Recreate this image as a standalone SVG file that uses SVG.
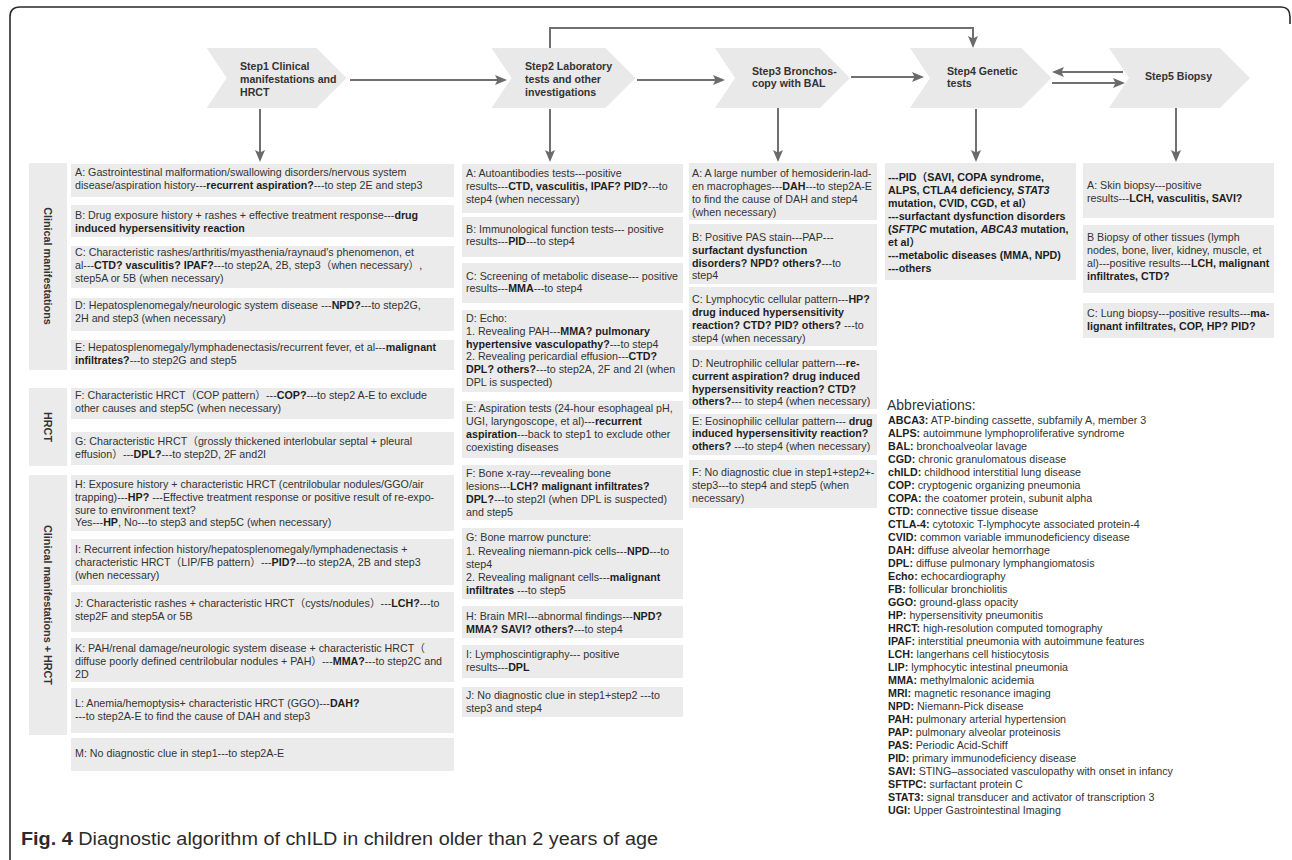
<svg xmlns="http://www.w3.org/2000/svg" width="1292" height="860" viewBox="0 0 1292 860">
<style>
.box{fill:#ebebeb}
.chev{fill:#e9e9e9}
.t{font-family:"Liberation Sans","Noto Sans CJK SC",Arial,sans-serif;font-size:10.7px;fill:#333}
.b{font-weight:bold;fill:#1e1e1e}
.i{font-style:italic}
.hd{font-family:"Liberation Sans",Arial,sans-serif;font-size:10.6px;font-weight:bold;fill:#333}
.side{font-family:"Liberation Sans",Arial,sans-serif;font-size:10.8px;font-weight:bold;fill:#333}
.conn{stroke:#707070;stroke-width:2;fill:none}
.frame{stroke:#2a2a2a;stroke-width:1.6;fill:none}
</style>
<defs>
<marker id="ah" viewBox="0 0 12 10" refX="10" refY="5" markerWidth="12" markerHeight="10" markerUnits="userSpaceOnUse" orient="auto">
<path d="M0,0 L12,5 L0,10 L2.5,5 Z" fill="#6b6b6b"/>
</marker>
</defs>
<rect width="1292" height="860" fill="#ffffff"/>
<path class="frame" d="M10,860 V17 Q10,7 20,7 H1281 Q1290,7 1290,17 V24"/>

<!-- Steps -->
<g id="step1"><polygon class="chev" points="206.6,48 316.5,48 346.5,78 316.5,108 206.6,108 226.6,78"/>
<text class="hd"><tspan x="240" y="70">Step1 Clinical</tspan><tspan x="240" y="83">manifestations and</tspan><tspan x="240" y="96">HRCT</tspan></text></g>
<g id="step2"><polygon class="chev" points="491.5,48 605.5,48 635.5,78 605.5,108 491.5,108 511.5,78"/>
<text class="hd"><tspan x="525" y="70">Step2 Laboratory</tspan><tspan x="525" y="83">tests and other</tspan><tspan x="525" y="96">investigations</tspan></text></g>
<g id="step3"><polygon class="chev" points="715,48 820,48 850,78 820,108 715,108 735,78"/>
<text class="hd"><tspan x="752" y="75">Step3 Bronchos-</tspan><tspan x="752" y="87">copy with BAL</tspan></text></g>
<g id="step4"><polygon class="chev" points="910,48 1021.5,48 1051.5,78 1021.5,108 910,108 930,78"/>
<text class="hd"><tspan x="947" y="75">Step4 Genetic</tspan><tspan x="947" y="87">tests</tspan></text></g>
<g id="step5"><polygon class="chev" points="1109,48 1220,48 1250,78 1220,108 1109,108 1129,78"/>
<text class="hd"><tspan x="1145" y="80">Step5 Biopsy</tspan></text></g>

<!-- Connectors -->
<g id="connectors">
<path class="conn" d="M350,80 H505" marker-end="url(#ah)"/>
<path class="conn" d="M637,80 H723" marker-end="url(#ah)"/>
<path class="conn" d="M851,77 H922" marker-end="url(#ah)"/>
<path class="conn" d="M1123,72 H1054" marker-end="url(#ah)"/>
<path class="conn" d="M1052,83 H1123" marker-end="url(#ah)"/>
<path class="conn" d="M550,48 V28 H973 V46" marker-end="url(#ah)"/>
<path class="conn" d="M260,109 V160" marker-end="url(#ah)"/>
<path class="conn" d="M550,109 V160" marker-end="url(#ah)"/>
<path class="conn" d="M778,108 V160" marker-end="url(#ah)"/>
<path class="conn" d="M976,109 V160" marker-end="url(#ah)"/>
<path class="conn" d="M1176,108 V160" marker-end="url(#ah)"/>
</g>

<!-- Side labels -->
<g id="side-cm"><rect class="box" x="29" y="163" width="38" height="207"/><text class="side" text-anchor="middle" transform="translate(44,266) rotate(90)">Clinical manifestations</text></g>
<g id="side-hrct"><rect class="box" x="29" y="388" width="38" height="78"/><text class="side" text-anchor="middle" transform="translate(44,427) rotate(90)">HRCT</text></g>
<g id="side-cmh"><rect class="box" x="29" y="475" width="38" height="260"/><text class="side" text-anchor="middle" transform="translate(44,605) rotate(90)">Clinical manifestations + HRCT</text></g>

<!-- Column 1 -->
<g id="s1A"><rect class="box" x="71" y="164" width="383" height="33"/><text class="t"><tspan x="75" y="176">A: Gastrointestinal malformation/swallowing disorders/nervous system</tspan><tspan x="75" y="189">disease/aspiration history---<tspan class="b">recurrent aspiration?</tspan>---to step 2E and step3</tspan></text></g>
<g id="s1B"><rect class="box" x="71" y="205" width="383" height="32"/><text class="t"><tspan x="75" y="218.5">B: Drug exposure history + rashes + effective treatment response---<tspan class="b">drug</tspan></tspan><tspan x="75" y="232" class="b">induced hypersensitivity reaction</tspan></text></g>
<g id="s1C"><rect class="box" x="71" y="246" width="383" height="42"/><text class="t"><tspan x="75" y="256">C: Characteristic rashes/arthritis/myasthenia/raynaud's phenomenon, et</tspan><tspan x="75" y="269">al---<tspan class="b">CTD? vasculitis? IPAF?</tspan>---to step2A, 2B, step3（when necessary）,</tspan><tspan x="75" y="282">step5A or 5B (when necessary)</tspan></text></g>
<g id="s1D"><rect class="box" x="71" y="298" width="383" height="33"/><text class="t"><tspan x="75" y="309">D: Hepatosplenomegaly/neurologic system disease ---<tspan class="b">NPD?</tspan>---to step2G,</tspan><tspan x="75" y="322">2H and step3 (when necessary)</tspan></text></g>
<g id="s1E"><rect class="box" x="71" y="340" width="383" height="30"/><text class="t"><tspan x="75" y="351">E: Hepatosplenomegaly/lymphadenectasis/recurrent fever, et al---<tspan class="b">malignant</tspan></tspan><tspan x="75" y="364"><tspan class="b">infiltrates?</tspan>---to step2G and step5</tspan></text></g>
<g id="s1F"><rect class="box" x="71" y="388" width="383" height="31"/><text class="t"><tspan x="75" y="399">F: Characteristic HRCT（COP pattern）---<tspan class="b">COP?</tspan>---to step2 A-E to exclude</tspan><tspan x="75" y="412">other causes and step5C (when necessary)</tspan></text></g>
<g id="s1G"><rect class="box" x="71" y="432" width="383" height="33"/><text class="t"><tspan x="75" y="445">G: Characteristic HRCT（grossly thickened interlobular septal + pleural</tspan><tspan x="75" y="458">effusion）---<tspan class="b">DPL?</tspan>---to step2D, 2F and2I</tspan></text></g>
<g id="s1H"><rect class="box" x="71" y="475" width="383" height="56"/><text class="t"><tspan x="75" y="488">H: Exposure history + characteristic HRCT (centrilobular nodules/GGO/air</tspan><tspan x="75" y="501">trapping)---<tspan class="b">HP?</tspan> ---Effective treatment response or positive result of re-expo-</tspan><tspan x="75" y="514">sure to environment text?</tspan><tspan x="75" y="526">Yes---<tspan class="b">HP</tspan>, No---to step3 and step5C (when necessary)</tspan></text></g>
<g id="s1I"><rect class="box" x="71" y="539" width="383" height="46"/><text class="t"><tspan x="75" y="552.5">I: Recurrent infection history/hepatosplenomegaly/lymphadenectasis +</tspan><tspan x="75" y="566">characteristic HRCT（LIP/FB pattern）---<tspan class="b">PID?</tspan>---to step2A, 2B and step3</tspan><tspan x="75" y="579">(when necessary)</tspan></text></g>
<g id="s1J"><rect class="box" x="71" y="592" width="383" height="40"/><text class="t"><tspan x="75" y="607">J: Characteristic rashes + characteristic HRCT（cysts/nodules）---<tspan class="b">LCH?</tspan>---to</tspan><tspan x="75" y="620">step2F and step5A or 5B</tspan></text></g>
<g id="s1K"><rect class="box" x="71" y="638" width="383" height="44"/><text class="t"><tspan x="75" y="652">K: PAH/renal damage/neurologic system disease + characteristic HRCT（</tspan><tspan x="75" y="665">diffuse poorly defined centrilobular nodules + PAH）---<tspan class="b">MMA?</tspan>---to step2C and</tspan><tspan x="75" y="678">2D</tspan></text></g>
<g id="s1L"><rect class="box" x="71" y="688" width="383" height="45"/><text class="t"><tspan x="75" y="707">L: Anemia/hemoptysis+ characteristic HRCT (GGO)---<tspan class="b">DAH?</tspan></tspan><tspan x="75" y="720">---to step2A-E to find the cause of DAH and step3</tspan></text></g>
<g id="s1M"><rect class="box" x="71" y="738" width="383" height="33"/><text class="t"><tspan x="75" y="756.5">M: No diagnostic clue in step1---to step2A-E</tspan></text></g>

<!-- Column 2 -->
<g id="s2A"><rect class="box" x="462" y="164" width="221" height="49"/><text class="t"><tspan x="466" y="177">A: Autoantibodies tests---positive</tspan><tspan x="466" y="190">results---<tspan class="b">CTD, vasculitis, IPAF? PID?</tspan>---to</tspan><tspan x="466" y="203">step4 (when necessary)</tspan></text></g>
<g id="s2B"><rect class="box" x="462" y="217" width="221" height="40"/><text class="t"><tspan x="466" y="232.5">B: Immunological function tests--- positive</tspan><tspan x="466" y="245">results---<tspan class="b">PID</tspan>---to step4</tspan></text></g>
<g id="s2C"><rect class="box" x="462" y="263" width="221" height="40"/><text class="t"><tspan x="466" y="279.5">C: Screening of metabolic disease--- positive</tspan><tspan x="466" y="292">results---<tspan class="b">MMA</tspan>---to step4</tspan></text></g>
<g id="s2D"><rect class="box" x="462" y="310" width="221" height="82"/><text class="t"><tspan x="466" y="322">D: Echo:</tspan><tspan x="466" y="335">1. Revealing PAH---<tspan class="b">MMA? pulmonary</tspan></tspan><tspan x="466" y="347.5"><tspan class="b">hypertensive vasculopathy?</tspan>---to step4</tspan><tspan x="466" y="360">2. Revealing pericardial effusion---<tspan class="b">CTD?</tspan></tspan><tspan x="466" y="373"><tspan class="b">DPL? others?</tspan>---to step2A, 2F and 2I (when</tspan><tspan x="466" y="386">DPL is suspected)</tspan></text></g>
<g id="s2E"><rect class="box" x="462" y="401" width="221" height="57"/><text class="t"><tspan x="466" y="412">E: Aspiration tests (24-hour esophageal pH,</tspan><tspan x="466" y="425">UGI, laryngoscope, et al)---<tspan class="b">recurrent</tspan></tspan><tspan x="466" y="438"><tspan class="b">aspiration</tspan>---back to step1 to exclude other</tspan><tspan x="466" y="451">coexisting diseases</tspan></text></g>
<g id="s2F"><rect class="box" x="462" y="465" width="221" height="55"/><text class="t"><tspan x="466" y="477">F: Bone x-ray---revealing bone</tspan><tspan x="466" y="490">lesions---<tspan class="b">LCH? malignant infiltrates?</tspan></tspan><tspan x="466" y="503"><tspan class="b">DPL?</tspan>---to step2I (when DPL is suspected)</tspan><tspan x="466" y="516">and step5</tspan></text></g>
<g id="s2G"><rect class="box" x="462" y="528" width="221" height="71"/><text class="t"><tspan x="466" y="541">G: Bone marrow puncture:</tspan><tspan x="466" y="554.5">1. Revealing niemann-pick cells---<tspan class="b">NPD</tspan>---to</tspan><tspan x="466" y="567.5">step4</tspan><tspan x="466" y="580.5">2. Revealing malignant cells---<tspan class="b">malignant</tspan></tspan><tspan x="466" y="593.5"><tspan class="b">infiltrates</tspan> ---to step5</tspan></text></g>
<g id="s2H"><rect class="box" x="462" y="606" width="221" height="32"/><text class="t"><tspan x="466" y="620">H: Brain MRI---abnormal findings---<tspan class="b">NPD?</tspan></tspan><tspan x="466" y="632.5"><tspan class="b">MMA? SAVI? others?</tspan>---to step4</tspan></text></g>
<g id="s2I"><rect class="box" x="462" y="645" width="221" height="33"/><text class="t"><tspan x="466" y="658">I: Lymphoscintigraphy--- positive</tspan><tspan x="466" y="671">results---<tspan class="b">DPL</tspan></tspan></text></g>
<g id="s2J"><rect class="box" x="462" y="687" width="221" height="30"/><text class="t"><tspan x="466" y="698.5">J: No diagnostic clue in step1+step2 ---to</tspan><tspan x="466" y="712">step3 and step4</tspan></text></g>

<!-- Column 3 -->
<g id="s3A"><rect class="box" x="689" y="163" width="188" height="57"/><text class="t"><tspan x="692" y="177">A: A large number of hemosiderin-lad-</tspan><tspan x="692" y="190">en macrophages---<tspan class="b">DAH</tspan>---to step2A-E</tspan><tspan x="692" y="203">to find the cause of DAH and step4</tspan><tspan x="692" y="216">(when necessary)</tspan></text></g>
<g id="s3B"><rect class="box" x="689" y="224" width="188" height="60"/><text class="t"><tspan x="692" y="240.5">B: Positive PAS stain---PAP---</tspan><tspan x="692" y="253.5" class="b">surfactant dysfunction</tspan><tspan x="692" y="266.5"><tspan class="b">disorders? NPD? others?</tspan>---to</tspan><tspan x="692" y="279">step4</tspan></text></g>
<g id="s3C"><rect class="box" x="689" y="287" width="188" height="59"/><text class="t"><tspan x="692" y="303">C: Lymphocytic cellular pattern---<tspan class="b">HP?</tspan></tspan><tspan x="692" y="316" class="b">drug induced hypersensitivity</tspan><tspan x="692" y="329"><tspan class="b">reaction? CTD? PID? others?</tspan> ---to</tspan><tspan x="692" y="342">step4 (when necessary)</tspan></text></g>
<g id="s3D"><rect class="box" x="689" y="350" width="188" height="59"/><text class="t"><tspan x="692" y="367">D: Neutrophilic cellular pattern---<tspan class="b">re-</tspan></tspan><tspan x="692" y="380" class="b">current aspiration? drug induced</tspan><tspan x="692" y="393" class="b">hypersensitivity reaction? CTD?</tspan><tspan x="692" y="405"><tspan class="b">others?</tspan>--- to step4 (when necessary)</tspan></text></g>
<g id="s3E"><rect class="box" x="689" y="414" width="188" height="41"/><text class="t"><tspan x="692" y="424.5">E: Eosinophilic cellular pattern--- <tspan class="b">drug</tspan></tspan><tspan x="692" y="437" class="b">induced hypersensitivity reaction?</tspan><tspan x="692" y="450"><tspan class="b">others?</tspan> ---to step4 (when necessary)</tspan></text></g>
<g id="s3F"><rect class="box" x="689" y="460" width="188" height="48"/><text class="t"><tspan x="692" y="476">F: No diagnostic clue in step1+step2+-</tspan><tspan x="692" y="489">step3---to step4 and step5 (when</tspan><tspan x="692" y="502">necessary)</tspan></text></g>

<!-- Column 4 -->
<g id="s4"><rect class="box" x="885" y="163" width="191" height="117"/><text class="t b"><tspan x="888" y="181">---PID（SAVI, COPA syndrome,</tspan><tspan x="888" y="194">ALPS, CTLA4 deficiency, <tspan class="i">STAT3</tspan></tspan><tspan x="888" y="207">mutation, CVID, CGD, et al）</tspan><tspan x="888" y="220">---surfactant dysfunction disorders</tspan><tspan x="888" y="233">(<tspan class="i">SFTPC</tspan> mutation, <tspan class="i">ABCA3</tspan> mutation,</tspan><tspan x="888" y="246">et al）</tspan><tspan x="888" y="259">---metabolic diseases (MMA, NPD)</tspan><tspan x="888" y="272">---others</tspan></text></g>

<!-- Column 5 -->
<g id="s5A"><rect class="box" x="1083" y="163" width="191" height="55"/><text class="t"><tspan x="1087" y="189">A: Skin biopsy---positive</tspan><tspan x="1087" y="202">results---<tspan class="b">LCH, vasculitis, SAVI?</tspan></tspan></text></g>
<g id="s5B"><rect class="box" x="1083" y="225" width="191" height="68"/><text class="t"><tspan x="1087" y="241">B Biopsy of other tissues (lymph</tspan><tspan x="1087" y="254">nodes, bone, liver, kidney, muscle, et</tspan><tspan x="1087" y="267">al)---positive results---<tspan class="b">LCH, malignant</tspan></tspan><tspan x="1087" y="280" class="b">infiltrates, CTD?</tspan></text></g>
<g id="s5C"><rect class="box" x="1083" y="303" width="191" height="35"/><text class="t"><tspan x="1087" y="317">C: Lung biopsy---positive results---<tspan class="b">ma-</tspan></tspan><tspan x="1087" y="329.5" class="b">lignant infiltrates, COP, HP? PID?</tspan></text></g>

<!-- Abbreviations -->
<g id="abbreviations">
<text x="887" y="410" style="font-family:'Liberation Sans',Arial,sans-serif;font-size:14px;fill:#333">Abbreviations:</text>
<text class="t">
<tspan x="888" y="423.5"><tspan class="b">ABCA3:</tspan> ATP-binding cassette, subfamily A, member 3</tspan>
<tspan x="888" dy="13.03"><tspan class="b">ALPS:</tspan> autoimmune lymphoproliferative syndrome</tspan>
<tspan x="888" dy="13.03"><tspan class="b">BAL:</tspan> bronchoalveolar lavage</tspan>
<tspan x="888" dy="13.03"><tspan class="b">CGD:</tspan> chronic granulomatous disease</tspan>
<tspan x="888" dy="13.03"><tspan class="b">chILD:</tspan> childhood interstitial lung disease</tspan>
<tspan x="888" dy="13.03"><tspan class="b">COP:</tspan> cryptogenic organizing pneumonia</tspan>
<tspan x="888" dy="13.03"><tspan class="b">COPA:</tspan> the coatomer protein, subunit alpha</tspan>
<tspan x="888" dy="13.03"><tspan class="b">CTD:</tspan> connective tissue disease</tspan>
<tspan x="888" dy="13.03"><tspan class="b">CTLA-4:</tspan> cytotoxic T-lymphocyte associated protein-4</tspan>
<tspan x="888" dy="13.03"><tspan class="b">CVID:</tspan> common variable immunodeficiency disease</tspan>
<tspan x="888" dy="13.03"><tspan class="b">DAH:</tspan> diffuse alveolar hemorrhage</tspan>
<tspan x="888" dy="13.03"><tspan class="b">DPL:</tspan> diffuse pulmonary lymphangiomatosis</tspan>
<tspan x="888" dy="13.03"><tspan class="b">Echo:</tspan> echocardiography</tspan>
<tspan x="888" dy="13.03"><tspan class="b">FB:</tspan> follicular bronchiolitis</tspan>
<tspan x="888" dy="13.03"><tspan class="b">GGO:</tspan> ground-glass opacity</tspan>
<tspan x="888" dy="13.03"><tspan class="b">HP:</tspan> hypersensitivity pneumonitis</tspan>
<tspan x="888" dy="13.03"><tspan class="b">HRCT:</tspan> high-resolution computed tomography</tspan>
<tspan x="888" dy="13.03"><tspan class="b">IPAF:</tspan> interstitial pneumonia with autoimmune features</tspan>
<tspan x="888" dy="13.03"><tspan class="b">LCH:</tspan> langerhans cell histiocytosis</tspan>
<tspan x="888" dy="13.03"><tspan class="b">LIP:</tspan> lymphocytic intestinal pneumonia</tspan>
<tspan x="888" dy="13.03"><tspan class="b">MMA:</tspan> methylmalonic acidemia</tspan>
<tspan x="888" dy="13.03"><tspan class="b">MRI:</tspan> magnetic resonance imaging</tspan>
<tspan x="888" dy="13.03"><tspan class="b">NPD:</tspan> Niemann-Pick disease</tspan>
<tspan x="888" dy="13.03"><tspan class="b">PAH:</tspan> pulmonary arterial hypertension</tspan>
<tspan x="888" dy="13.03"><tspan class="b">PAP:</tspan> pulmonary alveolar proteinosis</tspan>
<tspan x="888" dy="13.03"><tspan class="b">PAS:</tspan> Periodic Acid-Schiff</tspan>
<tspan x="888" dy="13.03"><tspan class="b">PID:</tspan> primary immunodeficiency disease</tspan>
<tspan x="888" dy="13.03"><tspan class="b">SAVI:</tspan> STING–associated vasculopathy with onset in infancy</tspan>
<tspan x="888" dy="13.03"><tspan class="b">SFTPC:</tspan> surfactant protein C</tspan>
<tspan x="888" dy="13.03"><tspan class="b">STAT3:</tspan> signal transducer and activator of transcription 3</tspan>
<tspan x="888" dy="13.03"><tspan class="b">UGI:</tspan> Upper Gastrointestinal Imaging</tspan>
</text>
</g>

<!-- Caption -->
<g id="caption"><text x="21" y="845" textLength="637" lengthAdjust="spacingAndGlyphs" style="font-family:'Liberation Sans',Arial,sans-serif;font-size:17.5px;fill:#2b2b2b"><tspan style="font-weight:bold">Fig. 4</tspan> Diagnostic algorithm of chILD in children older than 2 years of age</text></g>
</svg>
